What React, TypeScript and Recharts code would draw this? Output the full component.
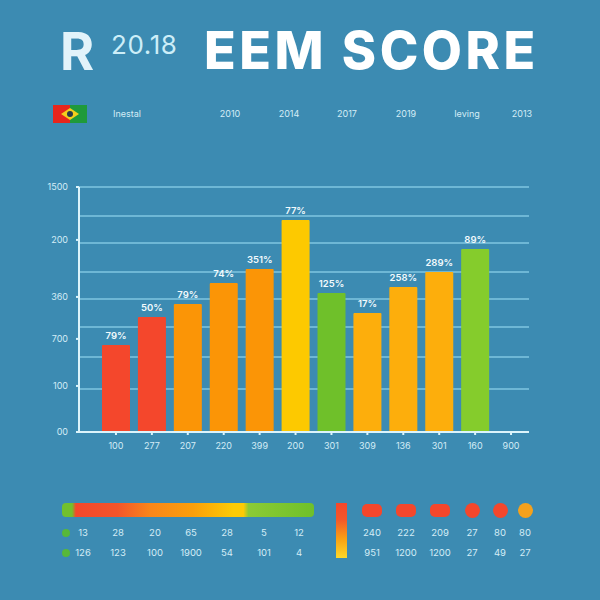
import { BarChart, Bar, XAxis, YAxis, CartesianGrid, Cell, LabelList } from "recharts";

const categories = ["100", "277", "207", "220", "399", "200", "301", "309", "136", "301", "160", "900"];
const scores = [532, 704, 784, 912, 998, 1298, 851, 729, 888, 980, 1120, null];
const percents = ["79%", "50%", "79%", "74%", "351%", "77%", "125%", "17%", "258%", "289%", "89%", ""];
const barColors = ["#f4472c", "#f4472c", "#fb9506", "#fb9506", "#fb9506", "#fdc900", "#6fc02a", "#fdae0c", "#fdae0c", "#fdae0c", "#85cc2c", "#85cc2c"];

const yTicks = [0, 282, 570, 827, 1176, 1500];
const yLabels = ["00", "100", "700", "360", "200", "1500"];
const gridValues = [263, 459, 643, 814, 980, 1157, 1322, 1500];

const headerLabels = ["Inestal", "2010", "2014", "2017", "2019", "Ieving", "2013"];
const leftRow1 = ["13", "28", "20", "65", "28", "5", "12"];
const leftRow2 = ["126", "123", "100", "1900", "54", "101", "4"];
const rightRow1 = ["240", "222", "209", "27", "80", "80"];
const rightRow2 = ["951", "1200", "1200", "27", "49", "27"];
const swatchColors = ["#f4472c", "#f4472c", "#f4472c", "#f4472c", "#f4472c", "#f5a11c"];

const data = categories.map((name, i) => ({ name, score: scores[i], pct: percents[i] }));

const font = "Inter, 'Noto Sans', sans-serif";
const headerX = [127, 230, 289, 347, 406, 467, 522];
const leftX = [83, 118, 155, 191, 227, 264, 299];
const rightX = [372, 406, 440, 472, 500, 525];
const swatchW = [20, 20, 20, 15, 15, 15];

function Small({ x, y, children, size = 9 }: { x: number; y: number; children: any; size?: number }) {
  return (
    <span
      style={{
        position: "absolute",
        left: x - 30,
        top: y - 8,
        width: 60,
        height: 16,
        lineHeight: "16px",
        textAlign: "center",
        fontSize: size,
        color: "#d4edf6",
        fontFamily: font,
      }}
    >
      {children}
    </span>
  );
}

export default function App() {
  return (
    <div style={{ position: "fixed", left: 0, top: 0, width: 600, height: 600, background: "#3c8bb2", overflow: "hidden" }}>
      {/* header */}
      <div style={{ position: "absolute", left: 60, top: 21, fontFamily: font, fontWeight: 700, fontSize: 52, lineHeight: "62px", color: "#e2f3fa" }}>R</div>
      <div style={{ position: "absolute", left: 111, top: 29, fontFamily: font, fontSize: 26, letterSpacing: 0.6, lineHeight: "32px", color: "#cdeef8" }}>20.18</div>
      <div style={{ position: "absolute", left: 204, top: 20, fontFamily: font, fontWeight: 800, fontSize: 52, letterSpacing: 3.5, lineHeight: "62px", color: "#ffffff", whiteSpace: "nowrap" }}>EEM SCORE</div>

      {/* flag */}
      <svg style={{ position: "absolute", left: 53, top: 105 }} width={34} height={18}>
        <rect width={17} height={18} fill="#e8261c" />
        <rect x={17} width={17} height={18} fill="#1f9a3a" />
        <polygon points="8,9 17,3 26,9 17,15" fill="#f4cf1d" />
        <circle cx={17} cy={9} r={3} fill="#2a3a4a" />
      </svg>
      {headerLabels.map((t, i) => (
        <Small key={i} x={headerX[i]} y={114}>{t}</Small>
      ))}

      <div style={{ position: "absolute", left: 0, top: 0 }}>
        <BarChart width={600} height={600} data={data} margin={{ top: 187, right: 71, bottom: 138, left: 0 }} barCategoryGap={8}>
          <CartesianGrid vertical={false} horizontalValues={gridValues} stroke="#7fc6e0" strokeWidth={1.5} />
          <XAxis
            dataKey="name"
            height={30}
            padding={{ left: 19, right: 0 }}
            stroke="#dcf4fb"
            strokeWidth={2}
            tickSize={3}
            tick={{ fill: "#d4edf6", fontSize: 9, fontFamily: font, dy: 6 }}
            interval={0}
          />
          <YAxis
            width={79}
            domain={[0, 1500]}
            ticks={yTicks}
            tickFormatter={(v: number) => yLabels[yTicks.indexOf(v)]}
            stroke="#dcf4fb"
            strokeWidth={2}
            tickSize={3}
            tick={{ fill: "#d4edf6", fontSize: 9, fontFamily: font, dx: -6 }}
            interval={0}
          />
          <Bar dataKey="score" barSize={28} radius={1} isAnimationActive={false}>
            {data.map((d, i) => (
              <Cell key={d.name + i} fill={barColors[i]} />
            ))}
            <LabelList dataKey="pct" position="top" offset={6} fill="#f2fafd" fontSize={9.5} fontWeight={600} fontFamily={font} />
          </Bar>
        </BarChart>
      </div>

      {/* bottom strips */}
      <div
        style={{
          position: "absolute",
          left: 62,
          top: 503,
          width: 252,
          height: 14,
          borderRadius: 4,
          background:
            "linear-gradient(90deg, #72c02c 0%, #72c02c 4%, #f4472c 5.5%, #f4552a 22%, #f9861a 35%, #fb9f0a 52%, #fdcb05 68%, #fdcb05 72%, #8ccb35 74%, #6fc02a 100%)",
        }}
      />
      <span style={{ position: "absolute", left: 62, top: 529, width: 8, height: 8, borderRadius: 4, background: "#57b83a" }} />
      <span style={{ position: "absolute", left: 62, top: 549, width: 8, height: 8, borderRadius: 4, background: "#57b83a" }} />
      {leftRow1.map((t, i) => (
        <Small key={i} x={leftX[i]} y={533} size={9.5}>{t}</Small>
      ))}
      {leftRow2.map((t, i) => (
        <Small key={i} x={leftX[i]} y={553} size={9.5}>{t}</Small>
      ))}

      <div style={{ position: "absolute", left: 336, top: 503, width: 11, height: 55, background: "linear-gradient(180deg, #f4472c 0%, #f4572a 30%, #f9a012 65%, #fdd92a 100%)" }} />
      {swatchColors.map((c, i) => (
        <span
          key={i}
          style={{
            position: "absolute",
            left: rightX[i] - swatchW[i] / 2,
            top: i < 3 ? 504 : 503,
            width: swatchW[i],
            height: i < 3 ? 13 : 15,
            borderRadius: i < 3 ? 5 : 8,
            background: c,
          }}
        />
      ))}
      {rightRow1.map((t, i) => (
        <Small key={i} x={rightX[i]} y={533} size={9.5}>{t}</Small>
      ))}
      {rightRow2.map((t, i) => (
        <Small key={i} x={rightX[i]} y={553} size={9.5}>{t}</Small>
      ))}
    </div>
  );
}
